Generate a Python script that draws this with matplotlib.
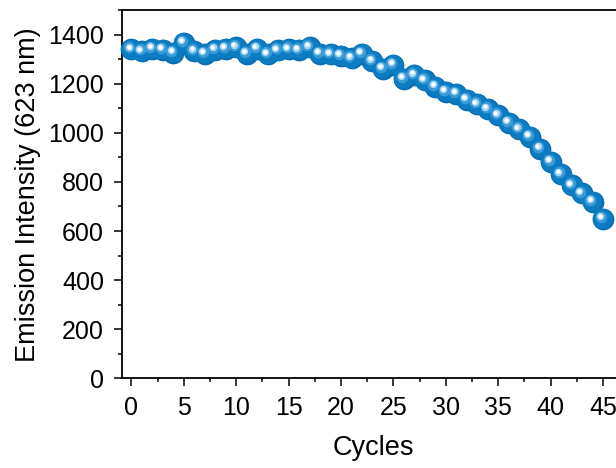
import matplotlib
matplotlib.use("Agg")
import matplotlib.pyplot as plt
from matplotlib.ticker import MultipleLocator
from matplotlib.transforms import ScaledTranslation

plt.rcParams['font.family'] = ['Liberation Sans', 'DejaVu Sans']

cycles = list(range(46))
intensity = [1341, 1333, 1343, 1339, 1326, 1368, 1334, 1323, 1339, 1343,
             1350, 1323, 1343, 1320, 1337, 1341, 1338, 1350, 1323, 1320,
             1314, 1305, 1323, 1293, 1262, 1278, 1220, 1236, 1214, 1189,
             1167, 1160, 1136, 1117, 1097, 1072, 1041, 1015, 984, 936,
             882, 832, 787, 753, 719, 649]

fig = plt.figure(figsize=(6.16, 4.68), dpi=100)
ax = fig.add_axes([0.198, 0.192, 0.815, 0.786])

# shaded "sphere" markers: base disc plus lighter layers shifted up-left
layers = [
    (245, '#0a6fb2', 0.0, 0.0),
    (195, '#0b7cc2', -0.4, 0.4),
    (70, '#3a9bd8', -1.5, 1.4),
    (28, '#a8d8f4', -1.9, 1.8),
    (9, '#ffffff', -2.0, 1.9),
]
for size, color, dx, dy in layers:
    tr = ax.transData + ScaledTranslation(dx / 72, dy / 72, fig.dpi_scale_trans)
    ax.scatter(cycles, intensity, s=size, color=color, linewidths=0,
               transform=tr, zorder=3, clip_on=False)

ax.set_xlim(-0.9, 47)
ax.set_ylim(0, 1500)
ax.xaxis.set_major_locator(MultipleLocator(5))
ax.xaxis.set_minor_locator(MultipleLocator(2.5))
ax.yaxis.set_major_locator(MultipleLocator(200))
ax.yaxis.set_minor_locator(MultipleLocator(100))
ax.tick_params(which='both', direction='out', width=1.1, labelsize=18, pad=7)
ax.tick_params(which='major', length=6)
ax.tick_params(which='minor', length=3)
ax.tick_params(top=False, right=False)
for sp in ax.spines.values():
    sp.set_linewidth(1.3)

ax.set_xlabel("Cycles", fontsize=19.5, labelpad=11)
ax.set_ylabel("Emission Intensity (623 nm)", fontsize=19.5, labelpad=5)

fig.savefig("out.png", dpi=100)
